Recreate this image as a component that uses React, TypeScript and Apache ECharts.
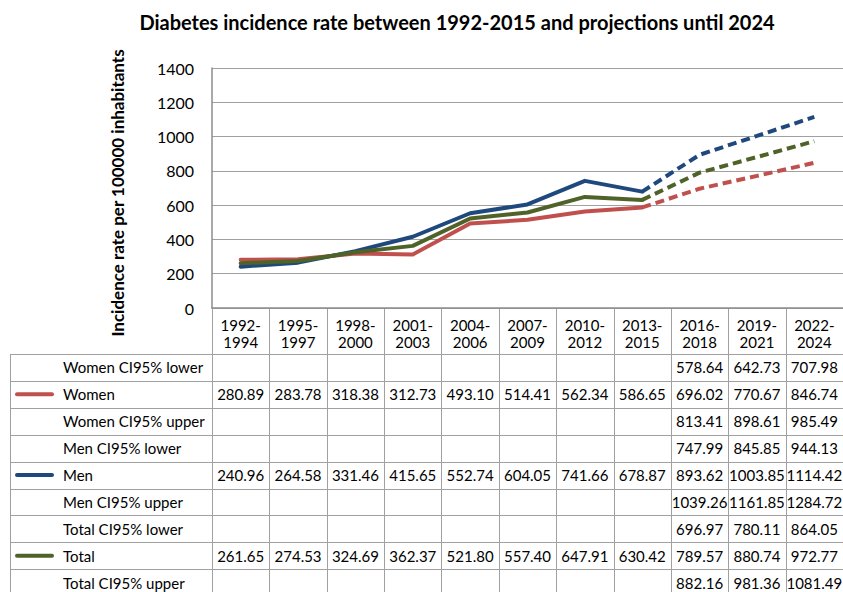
import React, { useEffect, useRef } from "react";
import * as echarts from "echarts";

const categories = ["1992-1994", "1995-1997", "1998-2000", "2001-2003", "2004-2006", "2007-2009", "2010-2012", "2013-2015", "2016-2018", "2019-2021", "2022-2024"];
const yTicks = [0, 200, 400, 600, 800, 1000, 1200, 1400];

const womenLower = [null, null, null, null, null, null, null, null, 578.64, 642.73, 707.98];
const women = [280.89, 283.78, 318.38, 312.73, 493.10, 514.41, 562.34, 586.65, 696.02, 770.67, 846.74];
const womenUpper = [null, null, null, null, null, null, null, null, 813.41, 898.61, 985.49];
const menLower = [null, null, null, null, null, null, null, null, 747.99, 845.85, 944.13];
const men = [240.96, 264.58, 331.46, 415.65, 552.74, 604.05, 741.66, 678.87, 893.62, 1003.85, 1114.42];
const menUpper = [null, null, null, null, null, null, null, null, 1039.26, 1161.85, 1284.72];
const totalLower = [null, null, null, null, null, null, null, null, 696.97, 780.11, 864.05];
const total = [261.65, 274.53, 324.69, 362.37, 521.80, 557.40, 647.91, 630.42, 789.57, 880.74, 972.77];
const totalUpper = [null, null, null, null, null, null, null, null, 882.16, 981.36, 1081.49];

const lastObserved = 7;

const COLORS = { women: "#C0504D", men: "#1F497D", total: "#4F6228" };
const FONT = "Lato, 'Open Sans', sans-serif";
const GRID_COLOR = "#A0A0A0";

const tableRows: { label: string; data: (number | null)[]; color: string | null }[] = [
  { label: "Women CI95% lower", data: womenLower, color: null },
  { label: "Women", data: women, color: COLORS.women },
  { label: "Women CI95% upper", data: womenUpper, color: null },
  { label: "Men CI95% lower", data: menLower, color: null },
  { label: "Men", data: men, color: COLORS.men },
  { label: "Men CI95% upper", data: menUpper, color: null },
  { label: "Total CI95% lower", data: totalLower, color: null },
  { label: "Total", data: total, color: COLORS.total },
  { label: "Total CI95% upper", data: totalUpper, color: null },
];

function lineSeries(name: string, data: number[], color: string) {
  const solid = data.map((v, i) => (i <= lastObserved ? v : null));
  const dashed = data.map((v, i) => (i >= lastObserved ? v : null));
  return [
    {
      name, type: "line", data: solid, symbol: "none", z: 3,
      lineStyle: { color, width: 4, cap: "round", join: "round" },
    },
    {
      name: name + " projection", type: "line", data: dashed, symbol: "none", z: 3,
      lineStyle: { color, width: 4, type: [9, 5], cap: "butt" },
    },
  ];
}

export default function App() {
  const ref = useRef<HTMLDivElement>(null);
  useEffect(() => {
    document.body.style.margin = "0";
    const chart = echarts.init(ref.current!, null, { renderer: "svg" });
    const gridLeft = 212, gridTop = 68, gridBottomY = 308, W = 843, H = 592;
    chart.setOption({
      animation: false,
      backgroundColor: "#fff",
      textStyle: { fontFamily: FONT },
      title: {
        text: "Diabetes incidence rate between 1992-2015 and projections until 2024",
        left: 452, top: 7, textAlign: "center",
        textStyle: { fontFamily: FONT, fontSize: 20, fontWeight: "bold", color: "#000" },
      },
      grid: { left: gridLeft, right: 0, top: gridTop, bottom: H - gridBottomY, containLabel: false },
      xAxis: {
        type: "category", data: categories, boundaryGap: true,
        axisLine: { show: true, lineStyle: { color: "#8C8C8C", width: 1.5 } },
        axisTick: { show: false },
        axisLabel: {
          fontFamily: FONT, fontSize: 15, color: "#000", lineHeight: 17, margin: 8,
          formatter: (v: string) => v.replace("-", "-\n"),
        },
      },
      yAxis: {
        type: "value", min: yTicks[0], max: yTicks[yTicks.length - 1], interval: 200,
        axisLine: { show: true, lineStyle: { color: "#8C8C8C", width: 1.5 } },
        axisTick: { show: false },
        axisLabel: { fontFamily: FONT, fontSize: 16, color: "#000", margin: 18, formatter: (v: number) => String(v) },
        splitLine: { lineStyle: { color: GRID_COLOR, width: 1 } },
      },
      series: [
        ...lineSeries("Women", women, COLORS.women),
        ...lineSeries("Men", men, COLORS.men),
        ...lineSeries("Total", total, COLORS.total),
      ],
    });

    const c0 = chart.convertToPixel({ xAxisIndex: 0 }, 0) as number;
    const c1 = chart.convertToPixel({ xAxisIndex: 0 }, 1) as number;
    const cw = c1 - c0;
    const colLeft = c0 - cw / 2;
    const tableTop = 354, rowH = 26.9, tableLeft = 10, bottom = tableTop + rowH * tableRows.length;
    const lineStyle = { stroke: GRID_COLOR, lineWidth: 1 };
    const g: any[] = [];
    g.push({
      type: "text", x: 117, y: 193, rotation: Math.PI / 2,
      style: { text: "Incidence rate per 100000 inhabitants", font: `bold 17px ${FONT}`, fill: "#000", align: "center", verticalAlign: "middle" },
    });
    for (let r = 0; r <= tableRows.length; r++) {
      const y = Math.round(tableTop + r * rowH) + 0.5;
      g.push({ type: "line", shape: { x1: tableLeft, y1: y, x2: W, y2: y }, style: lineStyle, silent: true });
    }
    g.push({ type: "line", shape: { x1: tableLeft + 0.5, y1: tableTop, x2: tableLeft + 0.5, y2: bottom }, style: lineStyle });
    for (let k = 0; k <= categories.length; k++) {
      const x = Math.round(colLeft + k * cw) + 0.5;
      g.push({ type: "line", shape: { x1: x, y1: gridBottomY, x2: x, y2: bottom }, style: lineStyle });
    }
    tableRows.forEach((row, r) => {
      const cy = tableTop + (r + 0.5) * rowH;
      if (row.color) {
        g.push({ type: "line", shape: { x1: 17, y1: cy, x2: 52, y2: cy }, style: { stroke: row.color, lineWidth: 4, lineCap: "round" } });
      }
      g.push({ type: "text", x: 63, y: cy, style: { text: row.label, font: `15px ${FONT}`, fill: "#000", align: "left", verticalAlign: "middle" } });
      row.data.forEach((v, i) => {
        if (v == null) return;
        const cx = chart.convertToPixel({ xAxisIndex: 0 }, i) as number;
        g.push({ type: "text", x: cx, y: cy, style: { text: v.toFixed(2), font: `15px ${FONT}`, fill: "#000", align: "center", verticalAlign: "middle" } });
      });
    });
    chart.setOption({ graphic: g });
    return () => chart.dispose();
  }, []);
  return <div ref={ref} style={{ position: "fixed", left: 0, top: 0, width: 843, height: 592 }} />;
}
